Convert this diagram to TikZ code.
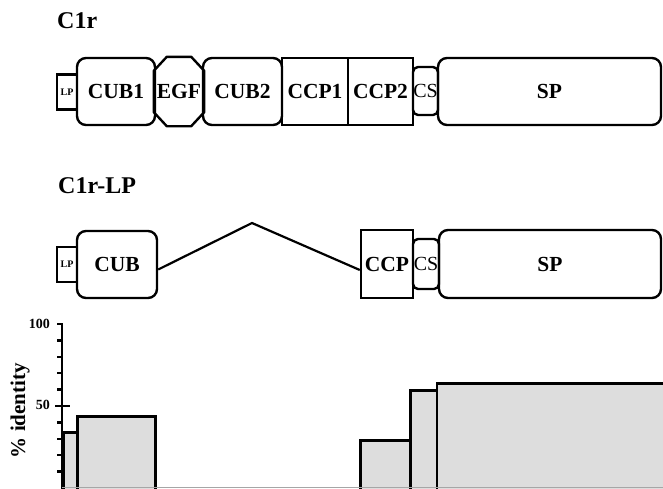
\documentclass[tikz,border=0pt]{standalone}
\usepackage{fontspec}
\setmainfont{Liberation Serif}
\usetikzlibrary{calc}
\begin{document}
\begin{tikzpicture}[x=1pt,y=-1pt,
  dom/.style={draw, line width=2.4pt, inner sep=0pt, minimum height=67pt,
    font=\fontsize{21.5}{21.5}\selectfont\bfseries},
  rdom/.style={dom, rounded corners=9pt},
  csbox/.style={draw, line width=2.4pt, inner sep=0pt, rounded corners=5pt,
    minimum height=48pt, font=\fontsize{20}{20}\selectfont},
  lpbox/.style={draw, line width=2.2pt, inner sep=0pt, minimum width=20pt,
    minimum height=35pt, font=\fontsize{10}{10}\selectfont\bfseries},
  title/.style={anchor=base west, inner sep=0pt, font=\fontsize{24}{24}\selectfont\bfseries},
  bar/.style={draw, line width=2.6pt, fill=gray!27},
  tick/.style={line width=2.4pt},
  num/.style={anchor=east, inner sep=0pt, font=\fontsize{14}{14}\selectfont\bfseries}
]
\useasboundingbox (0,0) rectangle (663,488);
\clip (0,0) rectangle (663,488);

% ---------- C1r ----------
\node[title] (t1) at (57,28) {C1r};
\node[lpbox] (lp1) at (67,92) {LP};
\node[rdom, minimum width=78pt] (cub1) at (116,91.5) {CUB1};
\node[dom, draw=none, minimum width=48pt] (egf) at (179,91.5) {EGF};
\draw[line width=2.4pt, line join=round]
  ($(egf.north west)+(13,0)$) -- ($(egf.north east)+(-13,0)$)
  -- ($(egf.north east)+(0,14)$) -- ($(egf.south east)+(0,-14)$)
  -- ($(egf.south east)+(-13,0)$) -- ($(egf.south west)+(13,0)$)
  -- ($(egf.south west)+(0,-14)$) -- ($(egf.north west)+(0,14)$) -- cycle;
\node[rdom, minimum width=79pt] (cub2) at (242.5,91.5) {CUB2};
\node[dom, minimum width=66pt] (ccp1) at (315,91.5) {CCP1};
\node[dom, minimum width=65pt] (ccp2) at (380.5,91.5) {CCP2};
\node[csbox, minimum width=25pt] (cs1) at (425.5,91) {CS};
\node[rdom, minimum width=223pt] (sp1) at (549.5,91.5) {SP};

% ---------- C1r-LP ----------
\node[title] (t2) at (58,193) {C1r-LP};
\node[lpbox] (lp2) at (67,264.5) {LP};
\node[rdom, minimum width=80pt] (cub) at (117,264.5) {CUB};
\node[dom, minimum width=52pt, minimum height=68pt] (ccp) at (387,264) {CCP};
\node[csbox, minimum width=26pt, minimum height=50pt] (cs2) at (426,264) {CS};
\node[rdom, minimum width=222pt, minimum height=68pt] (sp2) at (550,264) {SP};
\coordinate (peak) at (252,223);
\draw[line width=2.2pt] ($(cub.east)+(0,5)$) -- (peak) -- ($(ccp.west)+(0,6)$);

% ---------- chart ----------
\node[bar, inner sep=0pt, minimum width=14pt, minimum height=60pt, anchor=north west] (b1) at (62,431) {};
\node[bar, inner sep=0pt, minimum width=78pt, minimum height=76pt, anchor=north west] (b2) at (76,415) {};
\node[bar, inner sep=0pt, minimum width=50pt, minimum height=52pt, anchor=north west] (b3) at (359,439) {};
\node[bar, inner sep=0pt, minimum width=26.5pt, minimum height=102pt, anchor=north west] (b4) at (409,389) {};
\node[bar, inner sep=0pt, minimum width=232pt, minimum height=109pt, anchor=north west] (b5) at (435.5,382) {};

\coordinate (ax0) at (62,490);
\coordinate (ax1) at (62,323);
\draw[tick] (ax0) -- (ax1);
\draw[line width=1pt, gray!70] (62,487.6) -- (663,487.6);
\foreach \k in {1,2,3,4,6,7,8,9} {
  \draw[tick] (57,{488-16.4*\k}) -- (62,{488-16.4*\k});
}
\draw[tick] (57,324) -- (63,324);
\draw[tick] (55,406) -- (70,406);
\node[num] (n100) at (50,324) {100};
\node[num] (n50) at (50,405) {50};
\node[rotate=90, inner sep=0pt, font=\fontsize{21}{21}\selectfont\bfseries] (ylab) at (20,411) {\%\hspace{6pt}identity};
\end{tikzpicture}
\end{document}
